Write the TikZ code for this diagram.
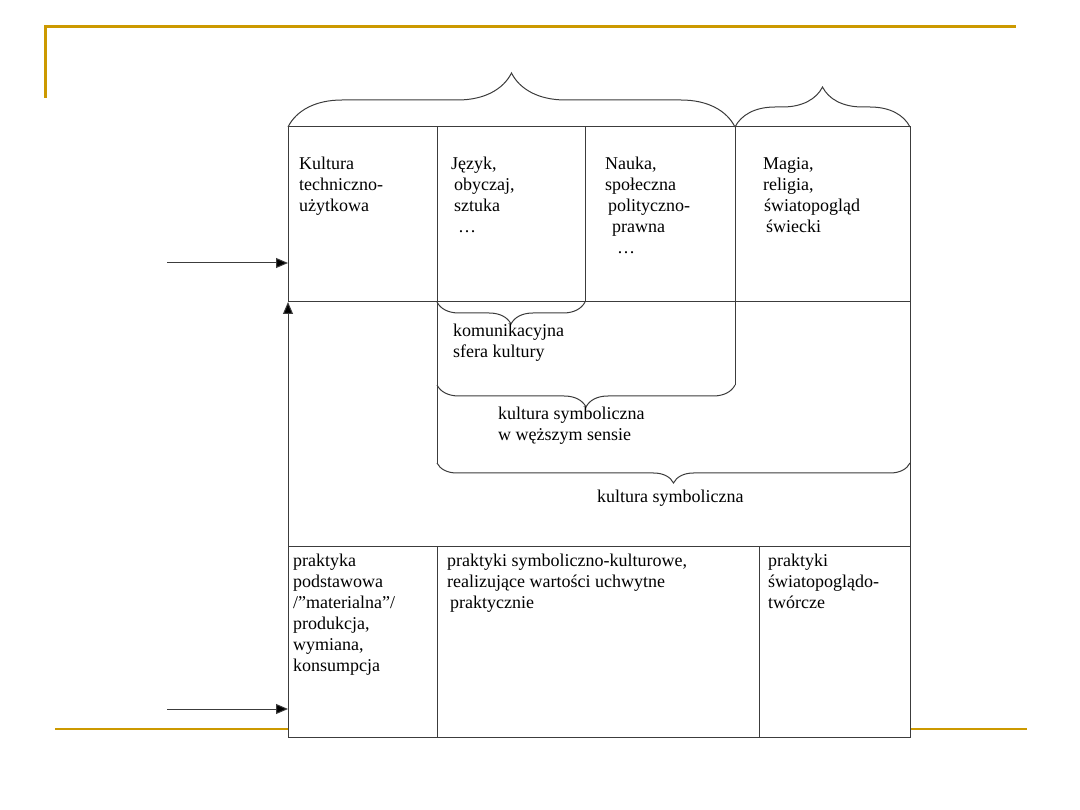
\documentclass[tikz,border=0pt]{standalone}
\usepackage{fontspec}
\setmainfont{Liberation Serif}
\usetikzlibrary{arrows.meta,decorations.pathreplacing}
\definecolor{slidegold}{RGB}{204,153,0}
\definecolor{gridgray}{RGB}{60,60,60}

\begin{document}
\begin{tikzpicture}[x=1pt,y=-1pt,
  cell/.style={anchor=north west,inner sep=0pt,align=left,
    font=\fontsize{18}{21}\selectfont,execute at begin node=\strut},
  grid/.style={draw=gridgray,line width=1pt},
  braceup/.style={grid,decorate,decoration={brace,amplitude=#1}},
  bracedown/.style={grid,decorate,decoration={brace,mirror,amplitude=#1}},
  feed/.style={draw=gridgray,line width=1pt,-{Triangle[length=12pt,width=10pt,fill=black]}}
]
  \useasboundingbox (0,0) rectangle (1080,810);

  % slide frame
  \draw[slidegold,line width=3pt] (45,98) -- (45,27) -- (1016,27);
  \draw[slidegold,line width=2.5pt] (55,729) -- (1027,729);

  % table corners
  \coordinate (tl) at (288,127);
  \coordinate (tr) at (910,127);
  \coordinate (bl) at (288,737);
  \coordinate (br) at (910,737);
  \coordinate (rowa) at (288,302);
  \coordinate (rowb) at (288,546);
  \coordinate (entrytop) at (288,263);
  \coordinate (entrybot) at (288,709);
  \coordinate (intop) at (167,263);
  \coordinate (inbot) at (167,709);

  \fill[white] (tl) rectangle (br);
  \draw[grid] (rowb) -- (bl) -- (br) -- (tr) -- (tl) -- (rowa);
  \draw[grid] (rowa) -- (910,302);
  \draw[grid] (rowb) -- (910,546);
  \draw[grid] (437,127) -- (437,463);
  \draw[grid] (585,127) -- (585,302);
  \draw[grid] (735,127) -- (735,385);
  \draw[grid] (437,546) -- (437,737);
  \draw[grid] (759,546) -- (759,737);

  % braces
  \draw[braceup=54] (tl) -- (735,127);
  \draw[braceup=40] (735,127) -- (tr);
  \draw[bracedown=22] (437,302) -- (585,302);
  \draw[bracedown=22] (437,385) -- (735,385);
  \draw[bracedown=20] (437,463) -- (910,463);

  % arrows
  \draw[feed] (intop) -- (entrytop);
  \draw[feed] (inbot) -- (entrybot);
  \draw[feed] (rowb) -- (rowa);

  % top row
  \node[cell] (techn) at (299,157.3) {Kultura\\techniczno-\\użytkowa};
  \node[cell] (jezyk) at (451,157.3) {Język,\\\hspace{3pt}obyczaj,\\\hspace{3pt}sztuka\\\hspace{7pt}…};
  \node[cell] (nauka) at (605,157.3) {Nauka,\\społeczna\\\hspace{3pt}polityczno-\\\hspace{7pt}prawna\\\hspace{12pt}…};
  \node[cell] (magia) at (763,157.3) {Magia,\\religia,\\\hspace{1pt}światopogląd\\\hspace{3pt}świecki};

  % brace labels
  \node[cell] (komun) at (453,324.3) {komunikacyjna\\sfera kultury};
  \node[cell] (symbw) at (498,407.3) {kultura symboliczna\\w węższym sensie};
  \node[cell] (symb) at (597,487.3) {kultura symboliczna};

  % bottom row
  \node[cell] (prakta) at (293,554.3) {praktyka\\podstawowa\\/”materialna”/\\produkcja,\\wymiana,\\konsumpcja};
  \node[cell] (praktb) at (447,554.3) {praktyki symboliczno-kulturowe,\\realizujące wartości uchwytne\\\hspace{3pt}praktycznie};
  \node[cell] (praktc) at (768,554.3) {praktyki\\światopoglądo-\\twórcze};
\end{tikzpicture}
\end{document}
